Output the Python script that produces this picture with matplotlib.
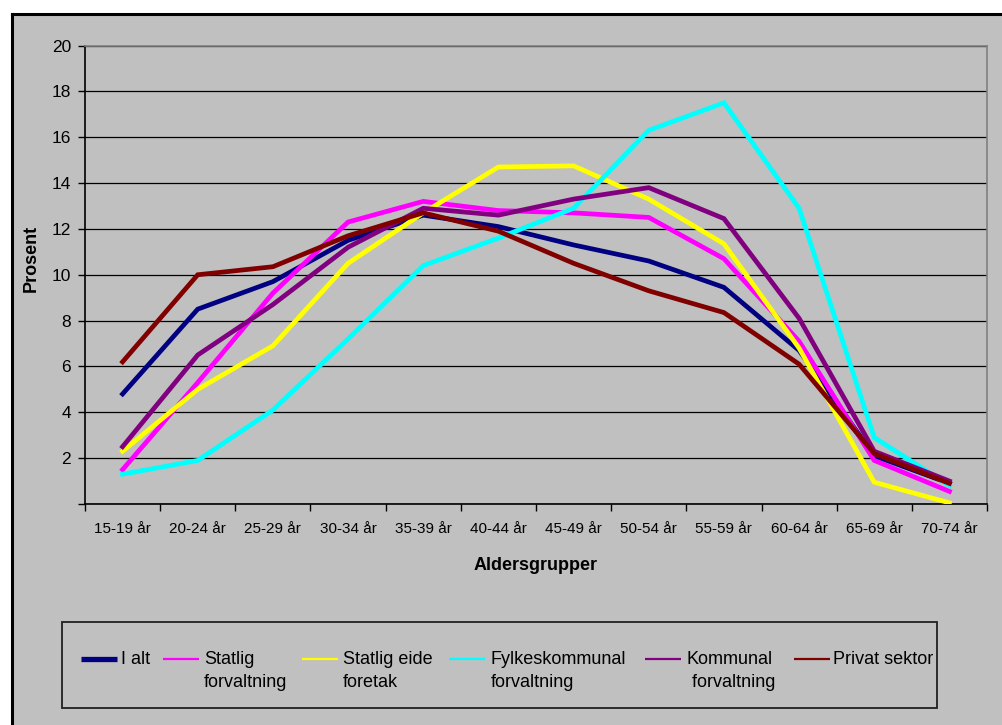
import matplotlib
matplotlib.use('Agg')
import matplotlib.pyplot as plt
from matplotlib.lines import Line2D
from matplotlib.patches import Rectangle

plt.rcParams['font.family'] = ['Liberation Sans', 'DejaVu Sans']

# ── Data ──────────────────────────────────────────────────────────────────────
age_groups = ['15-19 år', '20-24 år', '25-29 år', '30-34 år', '35-39 år', '40-44 år',
              '45-49 år', '50-54 år', '55-59 år', '60-64 år', '65-69 år', '70-74 år']

i_alt        = [4.8, 8.5, 9.7, 11.5, 12.6, 12.1, 11.3, 10.6, 9.45, 6.7, 2.1, 0.9]
statlig_forv = [1.5, 5.3, 9.2, 12.3, 13.2, 12.8, 12.7, 12.5, 10.7, 7.1, 1.9, 0.55]
statlig_eide = [2.3, 5.0, 6.9, 10.5, 12.7, 14.7, 14.75, 13.3, 11.35, 6.8, 0.95, 0.05]
fylkeskomm   = [1.3, 1.9, 4.1, 7.2, 10.4, 11.6, 12.9, 16.3, 17.5, 12.9, 2.9, 0.8]
kommunal     = [2.5, 6.5, 8.7, 11.2, 12.9, 12.6, 13.3, 13.8, 12.45, 8.1, 2.3, 1.0]
privat       = [6.2, 10.0, 10.35, 11.7, 12.7, 11.9, 10.5, 9.3, 8.35, 6.1, 2.2, 0.9]

series = [
    ('I alt', i_alt, '#000080'),
    ('Statlig\nforvaltning', statlig_forv, '#ff00ff'),
    ('Statlig eide\nforetak', statlig_eide, '#ffff00'),
    ('Fylkeskommunal\nforvaltning', fylkeskomm, '#00ffff'),
    ('Kommunal\n forvaltning', kommunal, '#800080'),
    ('Privat sektor', privat, '#800000'),
]

W, H = 1002, 725
GREY = '#c0c0c0'

fig = plt.figure(figsize=(W / 100, H / 100), dpi=100)
fig.patch.set_facecolor('white')

# chart area background + border (top/left only visible)
fig.patches.append(Rectangle((11.5 / W, 0), 1, 1 - 13.5 / H, transform=fig.transFigure,
                             facecolor=GREY, edgecolor='none', zorder=-5))
fig.lines.append(Line2D([11.5 / W, 1], [1 - 13.5 / H, 1 - 13.5 / H],
                        transform=fig.transFigure, color='black', lw=2.2, zorder=-4))
fig.lines.append(Line2D([11.5 / W, 11.5 / W], [0, 1 - 13.5 / H],
                        transform=fig.transFigure, color='black', lw=2.2, zorder=-4))

# ── Plot area ─────────────────────────────────────────────────────────────────
ax = fig.add_axes([85 / W, 1 - 504 / H, (987 - 85) / W, (504 - 45.5) / H])
ax.set_facecolor(GREY)

x = list(range(len(age_groups)))
for label, vals, col in series:
    ax.plot(x, vals, color=col, lw=3.4, solid_joinstyle='miter', zorder=3)

ax.set_xlim(-0.5, len(age_groups) - 0.5)
ax.set_ylim(0, 20)
ax.set_yticks(range(0, 21, 2))
ax.set_yticklabels([''] + [str(v) for v in range(2, 21, 2)], fontsize=12.5)
ax.yaxis.grid(True, color='black', lw=0.9)
ax.set_axisbelow(True)

ax.set_xticks([i - 0.5 for i in range(len(age_groups) + 1)])
ax.set_xticklabels([])
ax.set_xticks(x, minor=True)
ax.set_xticklabels(age_groups, minor=True, fontsize=11)
ax.tick_params(axis='x', which='minor', length=0, pad=13)
ax.tick_params(axis='x', which='major', length=5, width=1, direction='out')
ax.tick_params(axis='y', length=5, width=1, direction='out', pad=5)

for side in ['top', 'right']:
    ax.spines[side].set_color('#808080')
    ax.spines[side].set_linewidth(1.2)
for side in ['left', 'bottom']:
    ax.spines[side].set_color('black')
    ax.spines[side].set_linewidth(1.2)

fig.text(31 / W, 1 - 258 / H, 'Prosent', rotation=90, ha='center', va='center',
         fontsize=13, fontweight='bold')
fig.text(536 / W, 1 - 566 / H, 'Aldersgrupper', ha='center', va='center',
         fontsize=13, fontweight='bold')

# ── Legend (drawn by hand so handles align with first text line) ──────────────
fig.patches.append(Rectangle((62 / W, 1 - 708 / H), (937 - 62) / W, (708 - 622) / H,
                             transform=fig.transFigure, facecolor=GREY,
                             edgecolor='#202020', lw=1.3, zorder=1))
handle_x = [81, 163, 302, 449, 645, 794]
text_x = [121, 204, 343, 491, 687, 833]
for (label, vals, col), hx, tx in zip(series, handle_x, text_x):
    lw = 3.8 if label == 'I alt' else 1.6
    fig.lines.append(Line2D([hx / W, (hx + 36) / W], [1 - 659 / H, 1 - 659 / H],
                            transform=fig.transFigure, color=col, lw=lw, zorder=2,
                            solid_capstyle='butt'))
    fig.text(tx / W, 1 - 651 / H, label, ha='left', va='top', fontsize=13,
             linespacing=1.45, zorder=2)

fig.savefig('out.png', dpi=100, facecolor='white')
plt.close(fig)
